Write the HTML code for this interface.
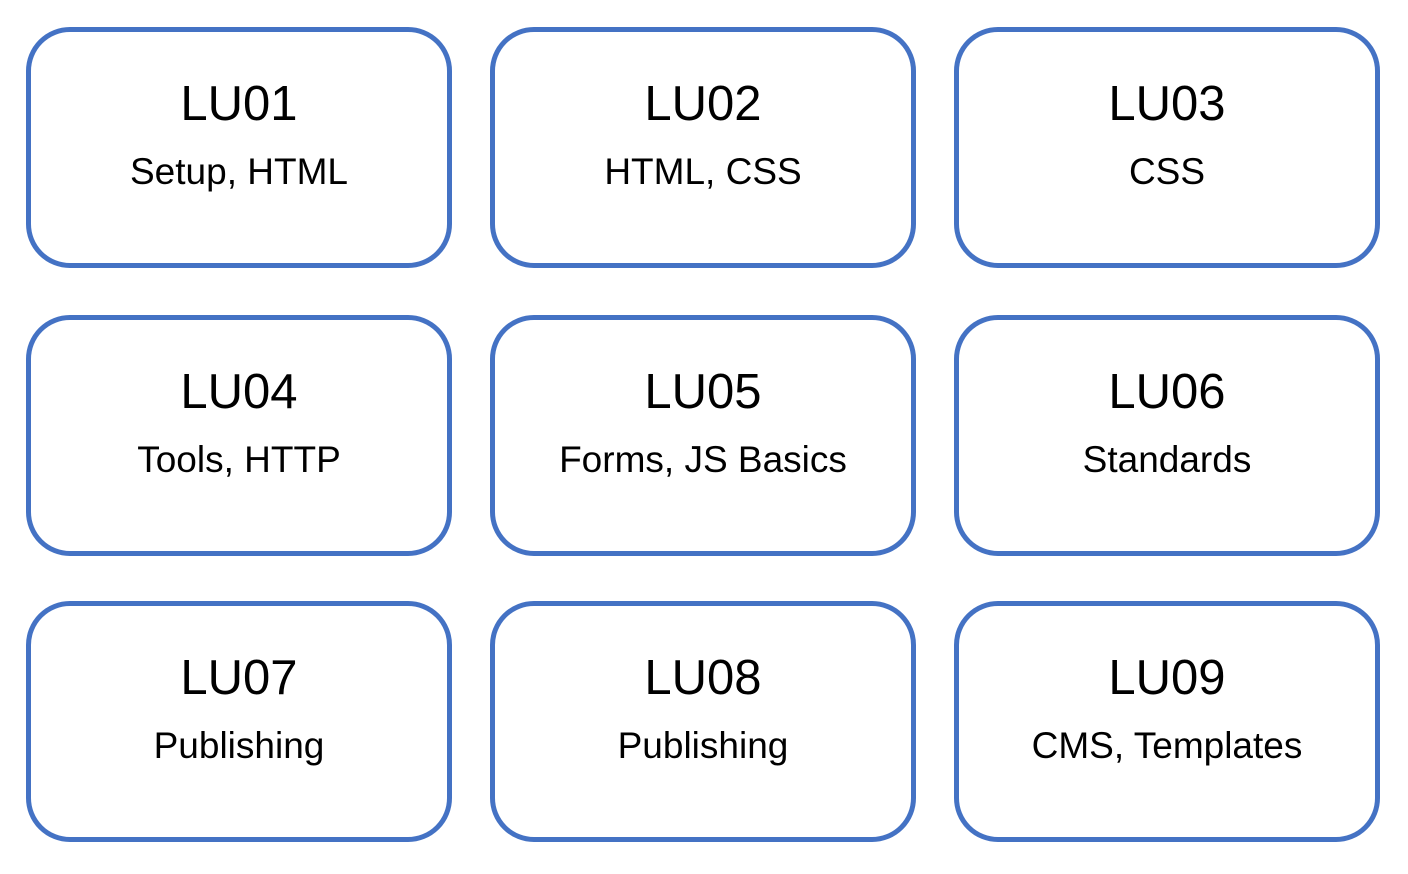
<!DOCTYPE html>
<html><head><meta charset="utf-8"><style>
html,body{margin:0;padding:0;background:#fff;width:1408px;height:874px;overflow:hidden}
.b{position:absolute;width:416px;height:231px;border:5px solid #4472C4;border-radius:44px;box-sizing:content-box;font-family:"Liberation Sans",sans-serif;color:#000;text-align:center}
.t{position:absolute;left:0;right:0;top:44px;font-size:49px;line-height:56px}
.s{position:absolute;left:0;right:0;top:119px;font-size:37px;line-height:42px}
</style></head><body>
<div class="b" style="left:26px;top:27px"><div class="t">LU01</div><div class="s">Setup, HTML</div></div>
<div class="b" style="left:490px;top:27px"><div class="t">LU02</div><div class="s">HTML, CSS</div></div>
<div class="b" style="left:954px;top:27px"><div class="t">LU03</div><div class="s">CSS</div></div>
<div class="b" style="left:26px;top:315px"><div class="t">LU04</div><div class="s">Tools, HTTP</div></div>
<div class="b" style="left:490px;top:315px"><div class="t">LU05</div><div class="s">Forms, JS Basics</div></div>
<div class="b" style="left:954px;top:315px"><div class="t">LU06</div><div class="s">Standards</div></div>
<div class="b" style="left:26px;top:601px"><div class="t">LU07</div><div class="s">Publishing</div></div>
<div class="b" style="left:490px;top:601px"><div class="t">LU08</div><div class="s">Publishing</div></div>
<div class="b" style="left:954px;top:601px"><div class="t">LU09</div><div class="s">CMS, Templates</div></div>
</body></html>
